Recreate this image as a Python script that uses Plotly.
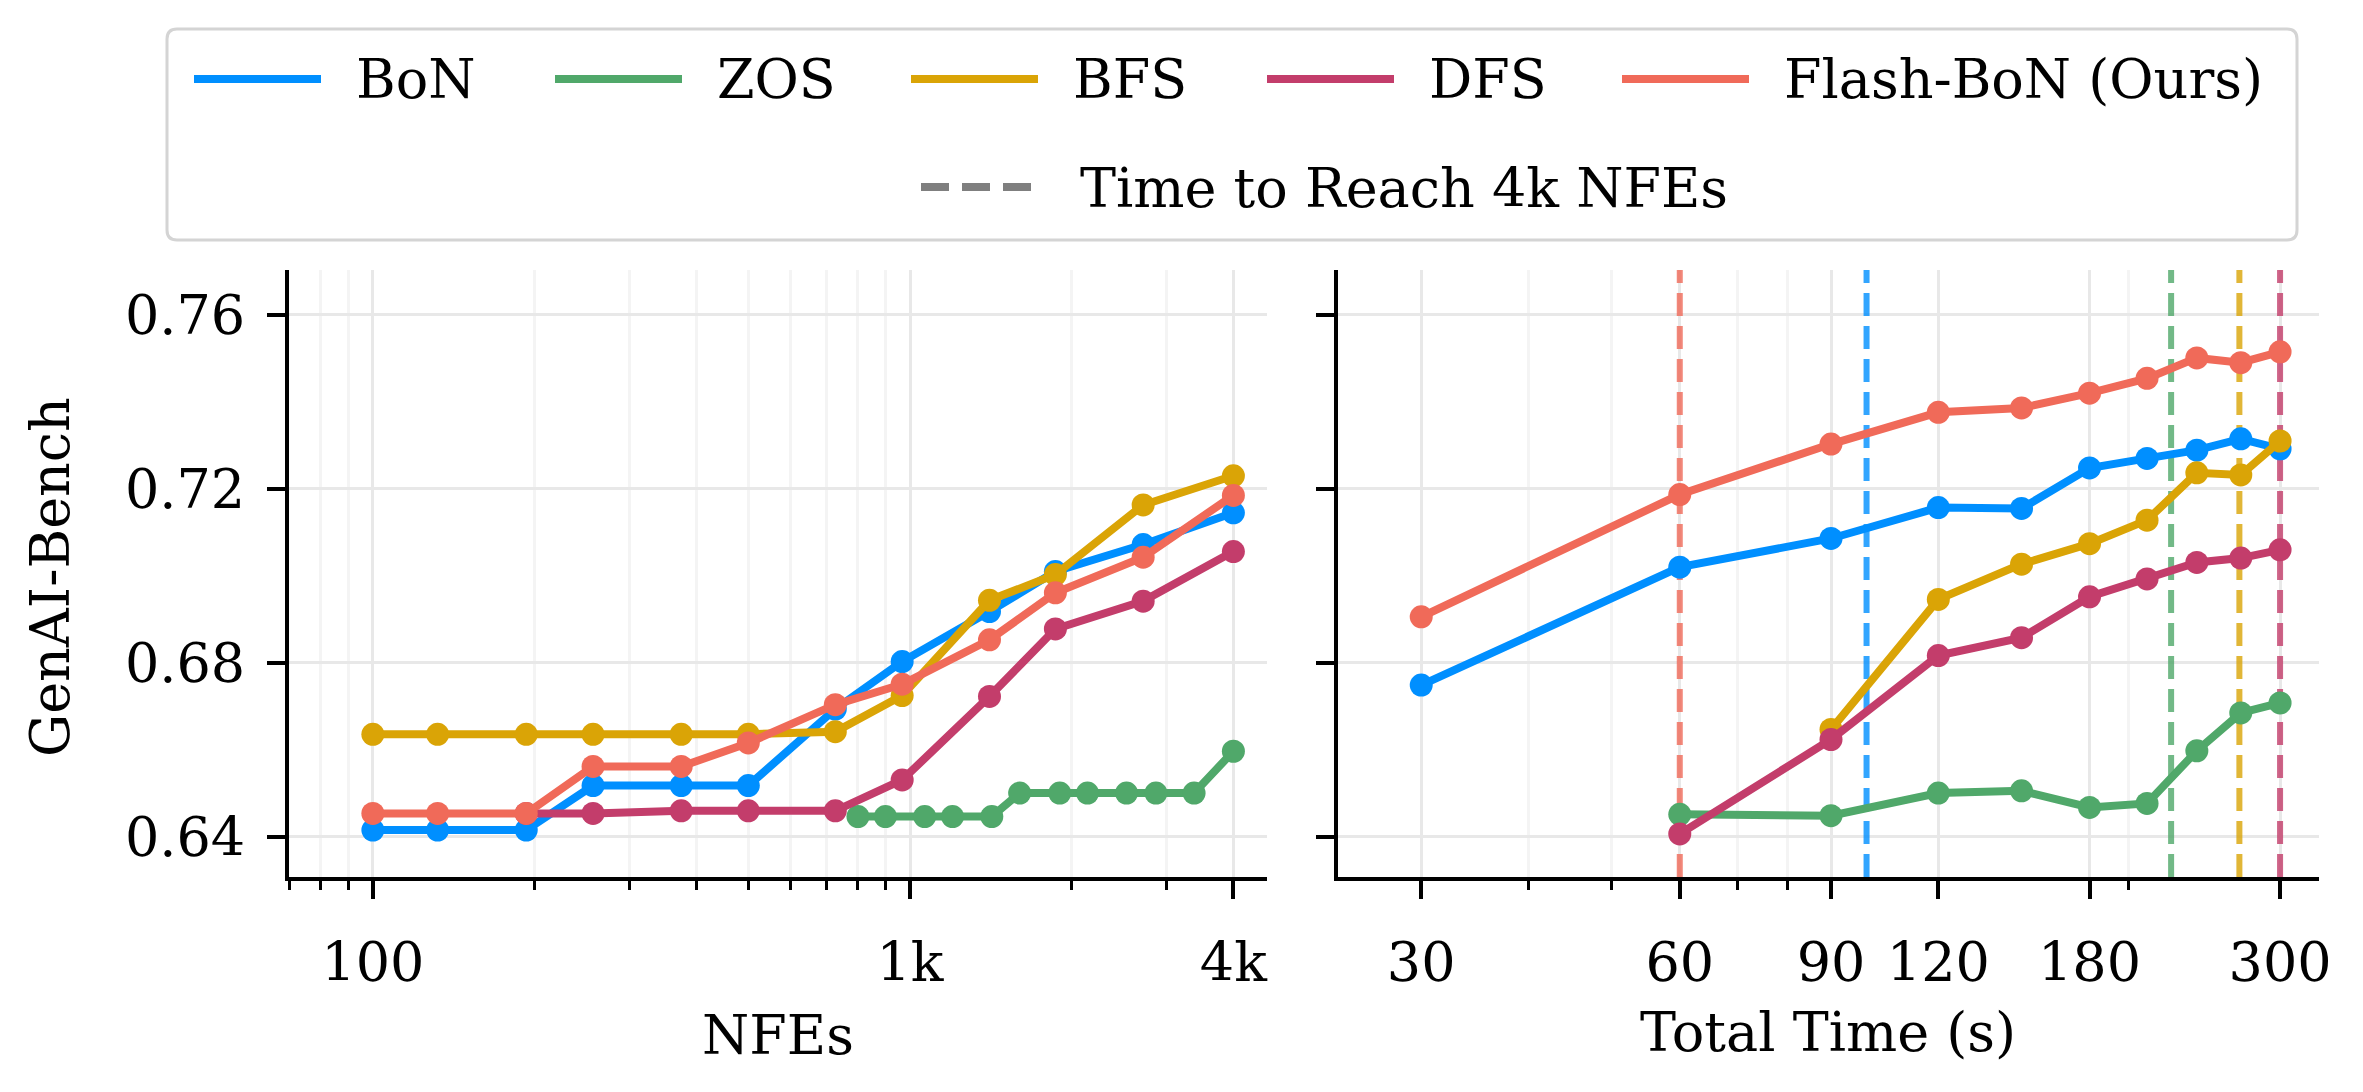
import math
import plotly.graph_objects as go

# ---------------- data ----------------
methods = ["BoN", "ZOS", "BFS", "DFS", "Flash-BoN (Ours)"]
colors = ["#008FFF", "#50A86A", "#DAA406", "#C33D6B", "#F06A59"]

# Left panel: score vs NFEs
nfe_bon = [100, 132, 193, 257, 375, 500, 726, 967, 1406, 1865, 2717, 4000]
score_nfe_bon = [0.6416, 0.6416, 0.6416, 0.6518, 0.6518, 0.6518, 0.6694, 0.6803, 0.6918, 0.7010, 0.7072, 0.7145]

nfe_zos = [800, 900, 1065, 1200, 1420, 1600, 1900, 2140, 2530, 2870, 3380, 4000]
score_nfe_zos = [0.6447, 0.6447, 0.6447, 0.6447, 0.6447, 0.6501, 0.6501, 0.6501, 0.6501, 0.6501, 0.6501, 0.6597]

nfe_bfs = [100, 132, 193, 257, 375, 500, 726, 967, 1406, 1865, 2717, 4000]
score_nfe_bfs = [0.6636, 0.6636, 0.6636, 0.6636, 0.6636, 0.6636, 0.6642, 0.6725, 0.6944, 0.7003, 0.7163, 0.7230]

nfe_dfs = [193, 257, 375, 500, 726, 967, 1406, 1865, 2717, 4000]
score_nfe_dfs = [0.6454, 0.6454, 0.6460, 0.6460, 0.6460, 0.6531, 0.6723, 0.6878, 0.6942, 0.7056]

nfe_flash = [100, 132, 193, 257, 375, 500, 726, 967, 1406, 1865, 2717, 4000]
score_nfe_flash = [0.6454, 0.6454, 0.6454, 0.6562, 0.6562, 0.6616, 0.6704, 0.6751, 0.6853, 0.6961, 0.7043, 0.7185]

# Right panel: score vs total time (s)
time_bon = [30, 60, 90, 120, 150, 180, 210, 240, 270, 300]
score_time_bon = [0.6749, 0.7020, 0.7086, 0.7157, 0.7155, 0.7248, 0.7270, 0.7289, 0.7315, 0.7292]

time_zos = [60, 90, 120, 150, 180, 210, 240, 270, 300]
score_time_zos = [0.6452, 0.6449, 0.6501, 0.6506, 0.6468, 0.6477, 0.6598, 0.6685, 0.6708]

time_bfs = [90, 120, 150, 180, 210, 240, 270, 300]
score_time_bfs = [0.6647, 0.6946, 0.7027, 0.7074, 0.7128, 0.7237, 0.7232, 0.7310]

time_dfs = [60, 90, 120, 150, 180, 210, 240, 270, 300]
score_time_dfs = [0.6407, 0.6624, 0.6817, 0.6858, 0.6952, 0.6993, 0.7031, 0.7041, 0.7060]

time_flash = [30, 60, 90, 120, 150, 180, 210, 240, 270, 300]
score_time_flash = [0.6906, 0.7187, 0.7303, 0.7376, 0.7386, 0.7420, 0.7454, 0.7501, 0.7490, 0.7515]

# time to reach 4k NFEs per method (same order as methods)
time_to_4k = [99, 224, 269, 300, 60]

# ticks
nfe_tickvals = [100, 1000, 4000]
nfe_ticktext = ["100", "1k", "4k"]
nfe_minor = [70, 80, 90, 200, 300, 400, 500, 600, 700, 800, 900, 2000, 3000]
time_tickvals = [30, 60, 90, 120, 180, 300]
time_ticktext = ["30", "60", "90", "120", "180", "300"]
time_minor = [40, 50, 70, 80, 200]
score_tickvals = [0.64, 0.68, 0.72, 0.76]
score_ticktext = ["0.64", "0.68", "0.72", "0.76"]

y_range = [0.6308, 0.7703]
nfe_range = [69.8, 4620]
time_range = [24, 333]

# ---------------- layout helpers ----------------
W, H = 2363, 1092
FONT = "DejaVu Serif"
FS = 54


def px(x):
    return x / W


def py(y):
    return 1 - y / H


fig = go.Figure()

nfe_x = [nfe_bon, nfe_zos, nfe_bfs, nfe_dfs, nfe_flash]
nfe_y = [score_nfe_bon, score_nfe_zos, score_nfe_bfs, score_nfe_dfs, score_nfe_flash]
time_x = [time_bon, time_zos, time_bfs, time_dfs, time_flash]
time_y = [score_time_bon, score_time_zos, score_time_bfs, score_time_dfs, score_time_flash]

# dashed "time to reach 4k NFEs" lines (drawn first so they sit beneath data)
for m, c, t in zip(methods, colors, time_to_4k):
    fig.add_trace(go.Scatter(
        x=[t, t], y=y_range, mode="lines", xaxis="x2", yaxis="y2",
        line=dict(color=c, width=6, dash="23px,10px"), opacity=0.8,
        showlegend=False, hoverinfo="skip", cliponaxis=True))

for m, c, xs, ys in zip(methods, colors, nfe_x, nfe_y):
    fig.add_trace(go.Scatter(
        x=xs, y=ys, mode="lines+markers", name=m, xaxis="x", yaxis="y",
        line=dict(color=c, width=8), marker=dict(color=c, size=23),
        showlegend=False, cliponaxis=False))

for m, c, xs, ys in zip(methods, colors, time_x, time_y):
    fig.add_trace(go.Scatter(
        x=xs, y=ys, mode="lines+markers", name=m, xaxis="x2", yaxis="y2",
        line=dict(color=c, width=8), marker=dict(color=c, size=23),
        showlegend=False, cliponaxis=False))

axis_common = dict(
    showline=True, linecolor="black", linewidth=4, mirror=False,
    ticks="outside", ticklen=18, tickwidth=4, tickcolor="black",
    showgrid=True, gridcolor="#e8e8e8", gridwidth=3, zeroline=False,
    automargin=False, tickfont=dict(family=FONT, size=FS, color="black"),
)
minor_common = dict(ticks="outside", ticklen=9, tickwidth=3, tickcolor="black",
                    showgrid=True, gridcolor="#f4f4f4", gridwidth=3)

fig.update_layout(
    width=W, height=H,
    margin=dict(l=0, r=0, t=0, b=0),
    paper_bgcolor="white", plot_bgcolor="white",
    font=dict(family=FONT, size=FS, color="black"),
    showlegend=False,
    xaxis=dict(axis_common, type="log", domain=[px(289), px(1267)], anchor="y",
               range=[math.log10(nfe_range[0]), math.log10(nfe_range[1])],
               tickmode="array", tickvals=nfe_tickvals, ticktext=nfe_ticktext,
               ticklabelstandoff=17,
               minor=dict(minor_common, tickmode="array", tickvals=nfe_minor)),
    xaxis2=dict(axis_common, type="log", domain=[px(1338), px(2319)], anchor="y2",
                range=[math.log10(time_range[0]), math.log10(time_range[1])],
                tickmode="array", tickvals=time_tickvals, ticktext=time_ticktext,
                ticklabelstandoff=17,
                minor=dict(minor_common, tickmode="array", tickvals=time_minor)),
    yaxis=dict(axis_common, domain=[py(877), py(270)], anchor="x", range=y_range,
               tickmode="array", tickvals=score_tickvals, ticktext=score_ticktext,
               ticklabelstandoff=11),
    yaxis2=dict(axis_common, domain=[py(877), py(270)], anchor="x2", range=y_range,
                matches="y", tickmode="array", tickvals=score_tickvals,
                showticklabels=False),
)

annotations = []
# axis titles
annotations.append(dict(text="NFEs", x=px(778), y=py(1035), xref="paper", yref="paper",
                        xanchor="center", yanchor="middle", showarrow=False,
                        font=dict(family=FONT, size=FS)))
annotations.append(dict(text="Total Time (s)", x=px(1828), y=py(1032), xref="paper", yref="paper",
                        xanchor="center", yanchor="middle", showarrow=False,
                        font=dict(family=FONT, size=FS)))
annotations.append(dict(text="GenAI-Bench", x=px(50), y=py(577), xref="paper", yref="paper",
                        xanchor="center", yanchor="middle", showarrow=False, textangle=-90,
                        font=dict(family=FONT, size=FS)))

shapes = []
# legend frame (rounded)
x0, x1, y0, y1, r = 167, 2297, 29, 240, 10
rx, ry = r / W, r / H
X0, X1, Y0, Y1 = px(x0), px(x1), py(y1), py(y0)
path = (f"M{X0+rx},{Y0} L{X1-rx},{Y0} Q{X1},{Y0} {X1},{Y0+ry} "
        f"L{X1},{Y1-ry} Q{X1},{Y1} {X1-rx},{Y1} L{X0+rx},{Y1} "
        f"Q{X0},{Y1} {X0},{Y1-ry} L{X0},{Y0+ry} Q{X0},{Y0} {X0+rx},{Y0} Z")
shapes.append(dict(type="path", path=path, xref="paper", yref="paper",
                   line=dict(color="#d4d4d4", width=3), fillcolor="white", layer="above"))

legend_sw_x = [194, 555, 911, 1267, 1622]
row1_y = 79
for m, c, sx in zip(methods, colors, legend_sw_x):
    shapes.append(dict(type="line", xref="paper", yref="paper",
                       x0=px(sx), x1=px(sx + 127), y0=py(row1_y), y1=py(row1_y),
                       line=dict(color=c, width=8), layer="above"))
    annotations.append(dict(text=m, x=px(sx + 160), y=py(row1_y + 1), xref="paper", yref="paper",
                            xanchor="left", yanchor="middle", showarrow=False,
                            font=dict(family=FONT, size=FS)))
row2_y = 187
shapes.append(dict(type="line", xref="paper", yref="paper",
                   x0=px(921), x1=px(1031), y0=py(row2_y), y1=py(row2_y),
                   line=dict(color="#7f7f7f", width=8, dash="28px,13px"), layer="above"))
annotations.append(dict(text="Time to Reach 4k NFEs", x=px(1078), y=py(row2_y + 1),
                        xref="paper", yref="paper", xanchor="left", yanchor="middle",
                        showarrow=False, font=dict(family=FONT, size=FS)))

fig.update_layout(annotations=annotations, shapes=shapes)

fig.write_html("out.html")
